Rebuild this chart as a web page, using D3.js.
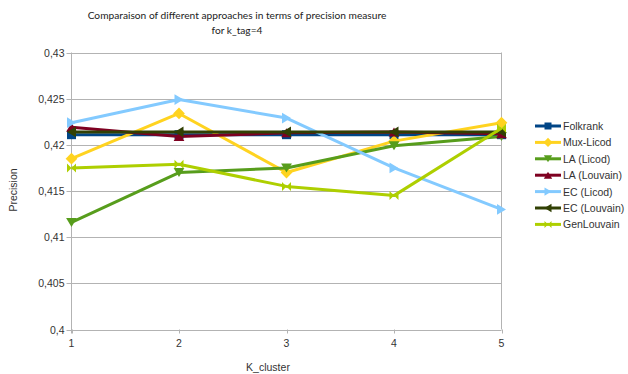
<!DOCTYPE html>
<html>
<head>
<meta charset="utf-8">
<script src="https://cdn.jsdelivr.net/npm/d3@7"></script>
<style>
  body { margin: 0; background: #fff; }
  svg { display: block; }
</style>
</head>
<body>
<svg id="chart" width="628" height="374"></svg>
<script>
// K_cluster values along the x axis
const categories = [1, 2, 3, 4, 5];
const yTicks = [0.4, 0.405, 0.41, 0.415, 0.42, 0.425, 0.43];

const seriesNames = ["Folkrank", "Mux-Licod", "LA  (Licod)", "LA  (Louvain)", "EC (Licod)", "EC (Louvain)", "GenLouvain"];
const folkrank   = [0.4211, 0.4211, 0.4211, 0.4211, 0.4211];
const muxLicod   = [0.4185, 0.4234, 0.4170, 0.4204, 0.4224];
const laLicod    = [0.4116, 0.4170, 0.4175, 0.4199, 0.4209];
const laLouvain  = [0.4219, 0.4209, 0.4213, 0.4214, 0.4212];
const ecLicod    = [0.4224, 0.4249, 0.4229, 0.4175, 0.4130];
const ecLouvain  = [0.4214, 0.4214, 0.4214, 0.4214, 0.4214];
const genLouvain = [0.4175, 0.4179, 0.4155, 0.4145, 0.4218];

const colors  = ["#004586", "#ffd320", "#579d1c", "#7e0021", "#83caff", "#314004", "#aecf00"];
const markers = ["square", "diamond", "down", "up", "right", "left", "bowtie"];

const seriesValues = [folkrank, muxLicod, laLicod, laLouvain, ecLicod, ecLouvain, genLouvain];
const series = seriesNames.map((name, i) => ({ name, values: seriesValues[i], color: colors[i], marker: markers[i] }));

const svg = d3.select("#chart");
const plot = { left: 71.5, right: 501.5, top: 52.5, bottom: 329.5 };

const x = d3.scaleLinear().domain([1, 5]).range([plot.left, plot.right]);
const y = d3.scaleLinear().domain([0.4, 0.43]).range([plot.bottom, plot.top]);

const fmt = v => d3.format("~g")(+v.toFixed(3)).replace(".", ",");

// Horizontal grid lines
svg.append("g")
  .selectAll("line")
  .data(yTicks)
  .join("line")
  .attr("x1", plot.left - 5).attr("x2", plot.right)
  .attr("y1", d => Math.round(y(d)) + 0.5).attr("y2", d => Math.round(y(d)) + 0.5)
  .attr("stroke", "#b3b3b3").attr("stroke-width", 1);

// Vertical boundary lines
[plot.left, plot.right].forEach(px => {
  svg.append("line")
    .attr("x1", px).attr("x2", px)
    .attr("y1", plot.top).attr("y2", plot.bottom + (px === plot.left ? 4 : 0))
    .attr("stroke", "#b3b3b3").attr("stroke-width", 1);
});

// Y axis labels
svg.append("g")
  .selectAll("text")
  .data(yTicks)
  .join("text")
  .attr("x", plot.left - 7)
  .attr("y", d => y(d) + 4)
  .attr("text-anchor", "end")
  .attr("font-family", "Liberation Sans, Arial, sans-serif")
  .attr("font-size", 10.5)
  .attr("fill", "#333")
  .text(fmt);

// X axis ticks and labels
const xAxis = svg.append("g");
xAxis.selectAll("line")
  .data(categories)
  .join("line")
  .attr("x1", d => Math.round(x(d)) + 0.5).attr("x2", d => Math.round(x(d)) + 0.5)
  .attr("y1", plot.bottom).attr("y2", plot.bottom + 4)
  .attr("stroke", "#b3b3b3");
xAxis.selectAll("text")
  .data(categories)
  .join("text")
  .attr("x", d => x(d))
  .attr("y", plot.bottom + 17)
  .attr("text-anchor", "middle")
  .attr("font-family", "Liberation Sans, Arial, sans-serif")
  .attr("font-size", 10.5)
  .attr("fill", "#333")
  .text(d => d);

// Axis titles
svg.append("text")
  .attr("x", 268).attr("y", 371)
  .attr("text-anchor", "middle")
  .attr("font-family", "Liberation Sans, Arial, sans-serif")
  .attr("font-size", 10.5).attr("fill", "#333")
  .text("K_cluster");
svg.append("text")
  .attr("transform", "translate(17,190) rotate(-90)")
  .attr("text-anchor", "middle")
  .attr("font-family", "Liberation Sans, Arial, sans-serif")
  .attr("font-size", 10.5).attr("fill", "#333")
  .text("Precision");

// Chart title
const title = svg.append("text")
  .attr("text-anchor", "middle")
  .attr("font-family", "Lato, 'Open Sans', sans-serif")
  .attr("font-size", 10.2).attr("fill", "#222");
title.append("tspan").attr("x", 237).attr("y", 19).text("Comparaison of different approaches in terms of precision measure");
title.append("tspan").attr("x", 237).attr("y", 34).text("for k_tag=4");

// Marker shapes
function markerPath(type, s) {
  switch (type) {
    case "square":  return `M${-s},${-s}H${s}V${s}H${-s}Z`;
    case "diamond": return `M0,${-s * 1.3}L${s * 1.3},0L0,${s * 1.3}L${-s * 1.3},0Z`;
    case "down":    return `M${-s * 1.2},${-s}L${s * 1.2},${-s}L0,${s}Z`;
    case "up":      return `M${-s * 1.2},${s}L${s * 1.2},${s}L0,${-s}Z`;
    case "right":   return `M${-s},${-s * 1.2}L${-s},${s * 1.2}L${s},0Z`;
    case "left":    return `M${s},${-s * 1.2}L${s},${s * 1.2}L${-s},0Z`;
    case "bowtie":  return `M${-s},${-s}L${s},${s}L${s},${-s}L${-s},${s}Z`;
  }
}

const line = d3.line().x((d, i) => x(categories[i])).y(d => y(d));

const seriesG = svg.append("g");
series.forEach(s => {
  const g = seriesG.append("g");
  g.append("path")
    .attr("d", line(s.values))
    .attr("fill", "none")
    .attr("stroke", s.color)
    .attr("stroke-width", 3)
    .attr("stroke-linejoin", "round");
  g.selectAll("path.m")
    .data(s.values)
    .join("path")
    .attr("class", "m")
    .attr("transform", (d, i) => `translate(${x(categories[i])},${y(d)})`)
    .attr("d", markerPath(s.marker, 4.5))
    .attr("fill", s.color);
});

// Legend
const legend = svg.append("g");
series.forEach((s, i) => {
  const ly = 126 + i * 16.4;
  const g = legend.append("g").attr("transform", `translate(0,${ly})`);
  g.append("line").attr("x1", 535).attr("x2", 561).attr("y1", 0).attr("y2", 0)
    .attr("stroke", s.color).attr("stroke-width", 3);
  g.append("path").attr("transform", "translate(548,0)")
    .attr("d", markerPath(s.marker, 3.5)).attr("fill", s.color);
  g.append("text").attr("x", 563).attr("y", 4)
    .attr("font-family", "Liberation Sans, Arial, sans-serif")
    .attr("font-size", 10.5).attr("fill", "#333")
    .text(s.name);
});
</script>
</body>
</html>
